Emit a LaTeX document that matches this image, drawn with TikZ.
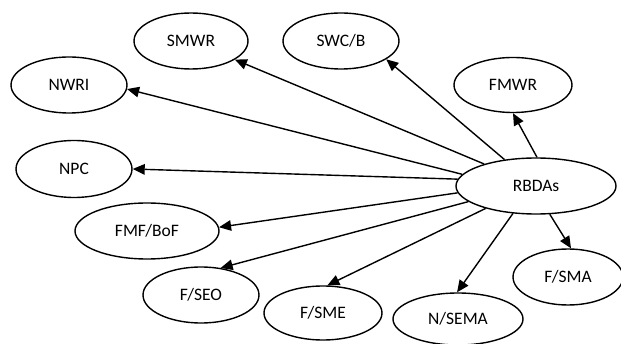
\documentclass[tikz,border=0pt]{standalone}
\usepackage{fontspec}
\setmainfont{Carlito}
\usetikzlibrary{shapes.geometric,arrows.meta}
\begin{document}
\begin{tikzpicture}[x=1pt,y=-1pt,
  oval/.style={ellipse,draw,line width=1.4pt,inner sep=0pt,font=\fontsize{17.5}{20}\selectfont},
  link/.style={line width=1.4pt,-{Triangle[length=12pt,width=10.5pt]}}]
\useasboundingbox (0,0) rectangle (621,344);
\node[oval,minimum width=114pt,minimum height=56pt] (smwr) at (191,41) {SMWR};
\node[oval,minimum width=116pt,minimum height=56pt] (swcb) at (341,41) {SWC/B};
\node[oval,minimum width=116pt,minimum height=56pt] (nwri) at (69,85) {NWRI};
\node[oval,minimum width=118pt,minimum height=55pt] (fmwr) at (513,85) {FMWR};
\node[oval,minimum width=116pt,minimum height=57pt] (npc) at (74,169) {NPC};
\node[oval,minimum width=160pt,minimum height=56pt] (rb) at (536,186) {RBDAs};
\node[oval,minimum width=144pt,minimum height=56pt] (fmf) at (147,231) {FMF/BoF};
\node[oval,minimum width=116pt,minimum height=56pt] (fseo) at (201,295) {F/SEO};
\node[oval,minimum width=118pt,minimum height=54pt] (fsme) at (323,313) {F/SME};
\node[oval,minimum width=130pt,minimum height=52pt] (nsema) at (458,319) {N/SEMA};
\node[oval,minimum width=110pt,minimum height=56pt] (fsma) at (568,277) {F/SMA};
\draw[link] (rb.157.6) -- (smwr.337.6);
\draw[link] (rb.140) -- (swcb.338.6);
\draw[link] (rb.88) -- (fmwr.270);
\draw[link] (rb.171.4) -- (nwri.356);
\draw[link] (rb.175) -- (npc.0);
\draw[link] (rb.185.8) -- (fmf.3);
\draw[link] (rb.193.7) -- (fseo.54.5);
\draw[link] (rb.204.8) -- (fsme.81);
\draw[link] (rb.230) -- (nsema.92);
\draw[link] (rb.296) -- (fsma.84);
\end{tikzpicture}
\end{document}
